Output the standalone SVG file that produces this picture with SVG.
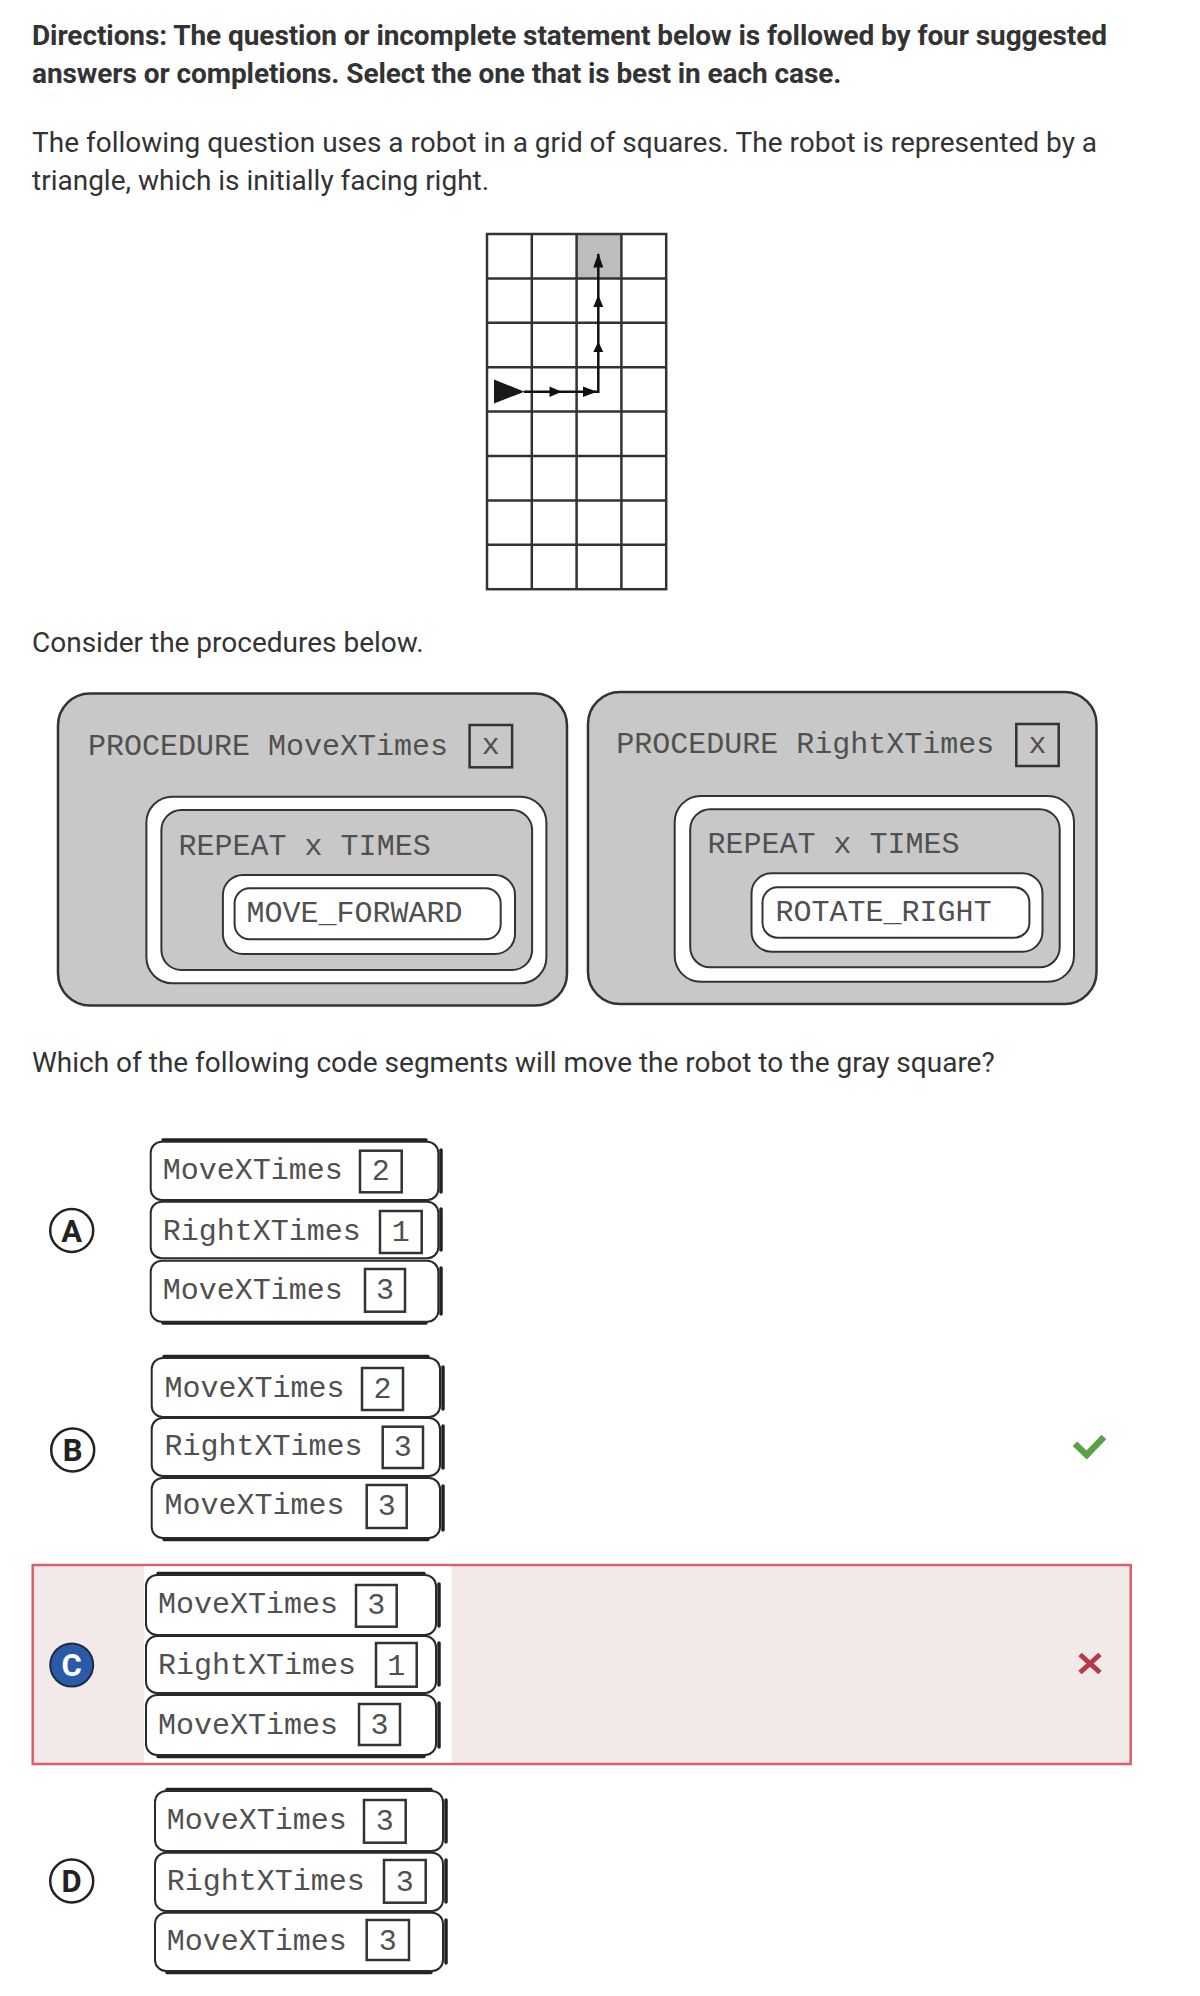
<svg xmlns="http://www.w3.org/2000/svg" width="1200" height="1996" viewBox="0 0 1200 1996">
<style>
.prose{font-family:Roboto,"Liberation Sans",sans-serif;font-size:28px;fill:#333}
.bold{font-weight:bold;letter-spacing:-0.08px}
.mono{font-family:"Liberation Mono","DejaVu Sans Mono",monospace;font-size:30px;fill:#505050}
.num{text-anchor:middle}
.grid{stroke:#333;stroke-width:2.5;fill:none}
.pbox{fill:#c8c8c8;stroke:#333;stroke-width:2.5}
.ring{fill:#fff;stroke:#333;stroke-width:2}
.ginner{fill:#c8c8c8;stroke:#333;stroke-width:2}
.arg{fill:none;stroke:#333;stroke-width:2.5}
.blk{fill:#fff;stroke:#2a2a2a;stroke-width:2}
.shadow{stroke:#222;stroke-width:3.5;fill:none;stroke-linecap:round}
.lcirc{fill:#fff;stroke:#222;stroke-width:2.5}
.letter{font-family:Roboto,"Liberation Sans",sans-serif;font-weight:bold;font-size:31px;text-anchor:middle;fill:#222}
.path{stroke:#111;stroke-width:2.5;fill:none}
.ah{fill:#111}
</style>

<g id="intro">
<text class="prose bold" x="32" y="45">Directions: The question or incomplete statement below is followed by four suggested</text>
<text class="prose bold" x="32" y="83">answers or completions. Select the one that is best in each case.</text>
<text class="prose" x="32" y="151.5">The following question uses a robot in a grid of squares. The robot is represented by a</text>
<text class="prose" x="32" y="190">triangle, which is initially facing right.</text>
</g>

<g id="grid">
<rect x="576.6" y="234" width="44.8" height="44.4" fill="#bdbdbd"/>
<rect class="grid" x="487" y="234" width="179.2" height="355.2"/>
<path class="grid" d="M531.8 234V589.2M576.6 234V589.2M621.4 234V589.2M487 278.4H666.2M487 322.8H666.2M487 367.2H666.2M487 411.6H666.2M487 456H666.2M487 500.4H666.2M487 544.8H666.2"/>
</g>

<g id="robot-path">
<polygon points="494,379.5 524.5,391.7 494,403.5" fill="#1a1a1a"/>
<path class="path" d="M524 391.7H598.3V254"/>
<polygon class="ah" points="549.5,386.5 561.7,391.7 549.5,396.9"/>
<polygon class="ah" points="583,386.5 597,391.7 583,396.9"/>
<polygon class="ah" points="598.3,341.7 593.3,352 603.3,352"/>
<polygon class="ah" points="598.3,295 593.3,307 603.3,307"/>
<polygon class="ah" points="598.3,253 593.3,267.5 603.3,267.5"/>
</g>

<g id="consider">
<text class="prose" x="32" y="652">Consider the procedures below.</text>
</g>

<g id="proc-move">
<rect class="pbox" x="58" y="693.5" width="509" height="312" rx="32"/>
<text class="mono" x="88" y="755">PROCEDURE MoveXTimes</text>
<rect class="arg" x="469.6" y="725" width="42.5" height="42.3"/>
<text class="mono num" x="490.8" y="754">x</text>
<rect class="ring" x="146.4" y="796.7" width="400" height="186.6" rx="26"/>
<rect class="ginner" x="161.4" y="810" width="370.7" height="160" rx="20"/>
<text class="mono" x="178.6" y="855">REPEAT x TIMES</text>
<rect class="ring" x="222.9" y="875" width="292.1" height="79" rx="20"/>
<rect class="ring" x="234.6" y="888.3" width="266.1" height="51" rx="15"/>
<text class="mono" x="246.4" y="921.7">MOVE_FORWARD</text>
</g>

<g id="proc-right">
<rect class="pbox" x="588" y="692" width="508.5" height="312" rx="32"/>
<text class="mono" x="616.2" y="753.3">PROCEDURE RightXTimes</text>
<rect class="arg" x="1016.3" y="724" width="42.4" height="42"/>
<text class="mono num" x="1037.5" y="753">x</text>
<rect class="ring" x="674.7" y="796" width="399.3" height="185.7" rx="26"/>
<rect class="ginner" x="690.2" y="809.3" width="369.5" height="158" rx="20"/>
<text class="mono" x="707.4" y="853.3">REPEAT x TIMES</text>
<rect class="ring" x="751.5" y="873.3" width="291" height="78.4" rx="20"/>
<rect class="ring" x="762.5" y="887.3" width="266.9" height="50.4" rx="15"/>
<text class="mono" x="775.6" y="920.7">ROTATE_RIGHT</text>
</g>

<g id="question">
<text class="prose" x="32" y="1072">Which of the following code segments will move the robot to the gray square?</text>
</g>

<g id="option-a">
<circle class="lcirc" cx="71.7" cy="1230.5" r="21.5"/>
<text class="letter" x="71.7" y="1241.5">A</text>
<path class="shadow" d="M163 1140H426M441 1150V1192M441 1209V1250M441 1268V1314M163 1323H426"/>
<rect class="blk" x="150.7" y="1141.7" width="287.6" height="58.3" rx="11"/>
<text class="mono" x="162.7" y="1179">MoveXTimes</text>
<rect class="arg" x="360" y="1150.7" width="41.7" height="41.6"/>
<text class="mono num" x="380.8" y="1180">2</text>
<rect class="blk" x="150.7" y="1201.7" width="287.6" height="56.6" rx="11"/>
<text class="mono" x="162.7" y="1240">RightXTimes</text>
<rect class="arg" x="380" y="1211" width="41.7" height="42"/>
<text class="mono num" x="400.8" y="1240.5">1</text>
<rect class="blk" x="150.7" y="1260.7" width="287.6" height="61" rx="11"/>
<text class="mono" x="162.7" y="1298.5">MoveXTimes</text>
<rect class="arg" x="365" y="1269" width="40" height="42.7"/>
<text class="mono num" x="385" y="1299">3</text>
</g>

<g id="option-b">
<circle class="lcirc" cx="72.7" cy="1450" r="21.5"/>
<text class="letter" x="72.7" y="1461">B</text>
<path class="shadow" d="M164 1356.5H428M443 1367V1409M443 1426V1468M443 1486V1530M164 1539.5H428"/>
<rect class="blk" x="151.7" y="1358" width="288.3" height="59" rx="11"/>
<text class="mono" x="164.5" y="1396.7">MoveXTimes</text>
<rect class="arg" x="362" y="1368" width="41" height="42"/>
<text class="mono num" x="382.5" y="1397.5">2</text>
<rect class="blk" x="151.7" y="1418" width="288.3" height="58" rx="11"/>
<text class="mono" x="164.5" y="1455">RightXTimes</text>
<rect class="arg" x="382.7" y="1426.7" width="40.3" height="41.3"/>
<text class="mono num" x="402.8" y="1456">3</text>
<rect class="blk" x="151.7" y="1478" width="288.3" height="60" rx="11"/>
<text class="mono" x="164.5" y="1514">MoveXTimes</text>
<rect class="arg" x="366.7" y="1485" width="40" height="43"/>
<text class="mono num" x="386.7" y="1515">3</text>
<path d="M1077.3 1446L1086.7 1455L1101.7 1439.3" fill="none" stroke="#5aa145" stroke-width="6.5" stroke-linecap="square"/>
</g>

<g id="option-c">
<rect x="32.7" y="1565" width="1098" height="199" fill="#f3e9e9" stroke="#d9606b" stroke-width="2.5"/>
<rect x="144" y="1566.5" width="307.7" height="196" fill="#fff"/>
<circle cx="71.7" cy="1665" r="21.5" fill="#2b5aa8" stroke="#1e2a44" stroke-width="2"/>
<text class="letter" x="71.7" y="1676" style="fill:#fff">C</text>
<path class="shadow" d="M158 1573.5H424M439 1584V1626M439 1643V1685M439 1703V1747M158 1756.5H424"/>
<rect class="blk" x="146" y="1575" width="290" height="60" rx="11"/>
<text class="mono" x="158" y="1613">MoveXTimes</text>
<rect class="arg" x="356" y="1585" width="40.7" height="41.7"/>
<text class="mono num" x="376.3" y="1614">3</text>
<rect class="blk" x="146" y="1636" width="290" height="57" rx="11"/>
<text class="mono" x="158" y="1673.5">RightXTimes</text>
<rect class="arg" x="376" y="1643" width="40.7" height="43.7"/>
<text class="mono num" x="396.3" y="1674.5">1</text>
<rect class="blk" x="146" y="1695" width="290" height="60" rx="11"/>
<text class="mono" x="158" y="1733.5">MoveXTimes</text>
<rect class="arg" x="359" y="1704" width="41" height="41"/>
<text class="mono num" x="379.5" y="1734">3</text>
<path d="M1080 1654.5L1100 1672.5M1100 1654.5L1080 1672.5" stroke="#b33a47" stroke-width="5" fill="none"/>
</g>

<g id="option-d">
<circle class="lcirc" cx="71.7" cy="1881" r="21.5"/>
<text class="letter" x="71.7" y="1892">D</text>
<path class="shadow" d="M167 1789.5H431M446 1800V1842M446 1860V1902M446 1920V1963M167 1972.5H431"/>
<rect class="blk" x="155" y="1791" width="288" height="60" rx="11"/>
<text class="mono" x="166.7" y="1829">MoveXTimes</text>
<rect class="arg" x="364" y="1800" width="41.7" height="42.7"/>
<text class="mono num" x="384.8" y="1830">3</text>
<rect class="blk" x="155" y="1852.7" width="288" height="58.3" rx="11"/>
<text class="mono" x="166.7" y="1890">RightXTimes</text>
<rect class="arg" x="384" y="1860" width="41.7" height="42.7"/>
<text class="mono num" x="404.8" y="1891">3</text>
<rect class="blk" x="155" y="1912.7" width="288" height="58.3" rx="11"/>
<text class="mono" x="166.7" y="1949.5">MoveXTimes</text>
<rect class="arg" x="366.7" y="1920" width="42.3" height="40"/>
<text class="mono num" x="387.8" y="1950">3</text>
</g>
</svg>
